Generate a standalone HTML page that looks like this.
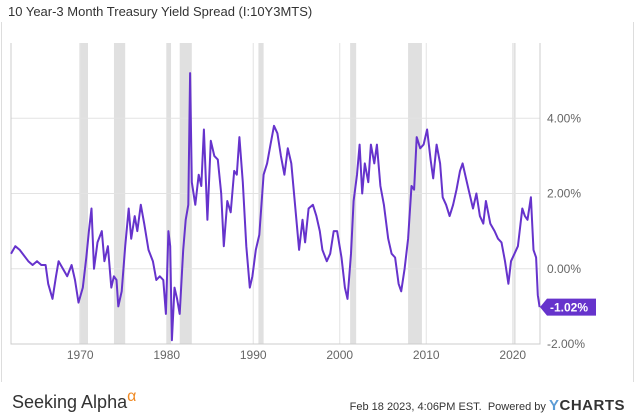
<!DOCTYPE html>
<html><head><meta charset="utf-8"><style>
body{margin:0;width:635px;height:417px;background:#fff;font-family:"Liberation Sans",sans-serif;overflow:hidden;position:relative}
#title{position:absolute;left:8px;top:4px;font-size:13px;color:#333}
#frame{position:absolute;left:1px;top:22px;width:631px;height:360px;border:1px solid #ddd;border-top:none;border-bottom:none}
#sa{position:absolute;left:12px;top:388px;font-size:18px;color:#333}
#sa sup{color:#f08a24;font-size:16px}
#foot{position:absolute;right:10px;top:397px;font-size:11px;color:#333}
#foot b{font-size:15px;color:#333;letter-spacing:0.5px}
</style></head><body>
<div id="title">10 Year-3 Month Treasury Yield Spread (I:10Y3MTS)</div>
<div id="frame"></div>
<svg id="chart" width="635" height="417" style="position:absolute;left:0;top:0"></svg>
<div id="sa">Seeking Alpha<sup>α</sup></div>
<div id="foot">Feb 18 2023, 4:06PM EST.&nbsp; Powered by <b><span style="color:#5b9bd5">Y</span>CHARTS</b></div>
<script>
const years=[1962,1962.5,1963,1964,1964.5,1965,1965.5,1966,1966.3,1966.8,1967.2,1967.5,1968,1968.5,1969,1969.4,1969.8,1970.3,1970.7,1971,1971.3,1971.6,1972,1972.5,1972.8,1973.2,1973.6,1973.9,1974.2,1974.4,1974.8,1975.2,1975.6,1975.9,1976.3,1976.6,1977,1977.4,1977.9,1978.4,1978.8,1979.2,1979.6,1979.9,1980.2,1980.4,1980.6,1980.9,1981.2,1981.5,1981.9,1982.2,1982.5,1982.7,1982.9,1983.3,1983.7,1984,1984.3,1984.7,1985.1,1985.5,1985.9,1986.3,1986.6,1987,1987.4,1987.8,1988.1,1988.4,1988.8,1989.2,1989.6,1989.9,1990.3,1990.7,1991.2,1991.6,1992,1992.4,1992.8,1993.2,1993.6,1994,1994.4,1994.8,1995.3,1995.7,1996,1996.4,1996.9,1997.3,1997.7,1998,1998.5,1998.9,1999.3,1999.7,2000.2,2000.6,2000.9,2001.3,2001.6,2002,2002.3,2002.6,2002.9,2003.3,2003.6,2004,2004.3,2004.7,2005.1,2005.6,2006,2006.4,2006.8,2007.1,2007.5,2007.9,2008.3,2008.6,2008.9,2009.3,2009.7,2010.1,2010.5,2010.8,2011.2,2011.6,2011.9,2012.3,2012.7,2013.1,2013.5,2013.9,2014.2,2014.6,2014.9,2015.4,2015.8,2016.2,2016.6,2016.9,2017.4,2017.9,2018.3,2018.7,2019.1,2019.5,2019.8,2020.2,2020.6,2021.1,2021.4,2021.7,2022.1,2022.4,2022.7,2022.9,2023.1];
const spread=[0.4,0.6,0.5,0.2,0.1,0.2,0.1,0.1,-0.4,-0.8,-0.2,0.2,0.0,-0.2,0.1,-0.3,-0.9,-0.5,0.3,1.0,1.6,0.0,0.7,1.0,0.2,0.6,-0.5,-0.2,-0.3,-1.0,-0.6,0.6,1.6,0.8,1.4,1.0,1.7,1.2,0.5,0.2,-0.3,-0.2,-0.3,-1.2,1.0,0.6,-1.9,-0.5,-0.8,-1.2,0.5,1.3,1.7,5.2,2.3,1.7,2.5,2.2,3.7,1.3,3.4,3.0,2.9,2.0,0.6,1.8,1.5,2.6,2.5,3.5,2.3,0.6,-0.5,-0.2,0.5,0.9,2.5,2.8,3.3,3.8,3.6,3.0,2.5,3.2,2.8,1.8,0.5,1.3,0.7,1.6,1.7,1.4,1.0,0.5,0.2,0.4,1.0,1.0,0.3,-0.5,-0.8,0.4,1.8,2.5,3.3,2.0,2.8,2.3,3.3,2.8,3.3,2.2,1.7,0.8,0.4,0.3,-0.4,-0.6,0.0,0.8,2.2,2.1,3.5,3.2,3.3,3.7,2.9,2.4,3.3,2.8,1.9,1.7,1.4,1.7,2.1,2.6,2.8,2.4,2.1,1.6,2.0,1.4,1.2,1.8,1.2,1.0,0.8,0.7,0.2,-0.4,0.2,0.4,0.6,1.6,1.4,1.3,1.9,0.5,0.3,-0.7,-1.02];
const recStart=[1969.9,1973.9,1980.0,1981.5,1990.6,2001.2,2007.9,2020.1];
const recEnd=[1970.9,1975.2,1980.5,1982.9,1991.2,2001.9,2009.5,2020.3];
const yTicks=[-2,0,2,4];
const yTickLabels=["-2.00%","0.00%","2.00%","4.00%"];
const xTicks=[1970,1980,1990,2000,2010,2020];
const lastLabel="-1.02%";

const L=11,R=540,T=43,B=344,X0=1962,X1=2023.15,Y0=-2,Y1=6;
const sx=v=>L+(v-X0)/(X1-X0)*(R-L);
const sy=v=>B-(v-Y0)/(Y1-Y0)*(B-T);
const svg=document.getElementById('chart');
const NS='http://www.w3.org/2000/svg';
function mk(t,a){const e=document.createElementNS(NS,t);for(const k in a)e.setAttribute(k,a[k]);svg.appendChild(e);return e;}
recStart.forEach((s,i)=>{
  const r=mk('rect',{x:sx(s),y:T,width:Math.max(2,sx(recEnd[i])-sx(s)),height:B-T,fill:'#e0e0e0'});
  
  
});
yTicks.forEach((v,i)=>{
  if(v>Y0){const g=mk('line',{x1:L,x2:R,y1:sy(v),y2:sy(v),stroke:'#e3e3e3','stroke-width':1});
  
  }
  const t=mk('text',{x:547,y:sy(v)+4,'font-size':12,fill:'#666','font-family':'Liberation Sans,sans-serif'});
  t.textContent=yTickLabels[i];
  
  
});
xTicks.forEach(v=>{
  const g=mk('line',{x1:sx(v),x2:sx(v),y1:T,y2:B,stroke:'#e3e3e3','stroke-width':1});
  
  
  const t=mk('text',{x:sx(v),y:B+15,'font-size':12,fill:'#666','text-anchor':'middle','font-family':'Liberation Sans,sans-serif'});
  t.textContent=v;
  
  
});
const ax=mk('path',{d:`M${L},${T}V${B}H${R}V${T}`,fill:'none',stroke:'#ccc','stroke-width':1});


const line=mk('path',{d:years.map((y,i)=>(i?'L':'M')+sx(y).toFixed(1)+','+sy(spread[i]).toFixed(1)).join(''),fill:'none',stroke:'#6633cc','stroke-width':2,'stroke-linejoin':'round'});


const ly=sy(spread[spread.length-1]);
const tag=mk('path',{d:`M${R},${ly}L${R+7},${ly-8.5}H${R+56}V${ly+8.5}H${R+7}Z`,fill:'#6633cc'});


const tt=mk('text',{x:R+10,y:ly+4.5,'font-size':12,'font-weight':'bold',fill:'#fff','font-family':'Liberation Sans,sans-serif'});
tt.textContent=lastLabel;


</script>
</body></html>
